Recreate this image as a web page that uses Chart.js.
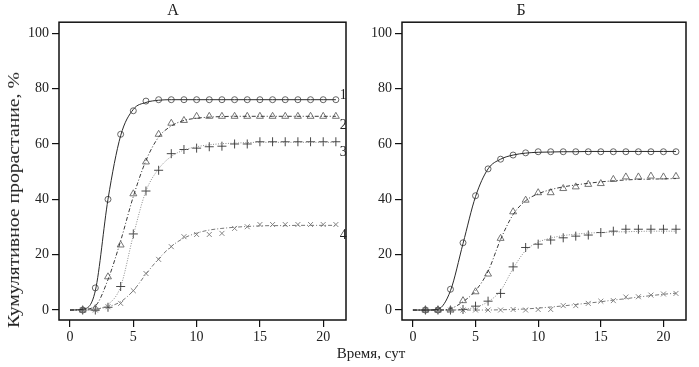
<!DOCTYPE html>
<html>
<head>
<meta charset="utf-8">
<script src="https://cdn.jsdelivr.net/npm/chart.js@4/dist/chart.umd.min.js"></script>
<style>
  body { margin: 0; background: #fff; }
  #wrap { position: relative; width: 699px; height: 367px; font-family: 'Liberation Serif', serif; color: #222; }
  canvas { position: absolute; top: 0; }
  #c1 { left: 0; }
  #c2 { left: 356px; }
  .lbl { position: absolute; white-space: nowrap; transform: translate(-50%, -50%); }
  #ytitle { left: 14px; top: 200px; font-size: 17px; transform: translate(-50%, -50%) rotate(-90deg) scaleX(1.16); }
  #xtitle { left: 371px; top: 353px; font-size: 15px; }
</style>
</head>
<body>
<div id="wrap">
  <canvas id="c1" width="356" height="367"></canvas>
  <canvas id="c2" width="343" height="367"></canvas>
  <div class="lbl" id="ytitle">Кумулятивное прорастание, %</div>
  <div class="lbl" id="xtitle">Время, сут</div>
</div>
<script>
// days of observation (markers) and days of the fitted curves
var days = [1,2,3,4,5,6,7,8,9,10,11,12,13,14,15,16,17,18,19,20,21];
var curveDays = [0,1,2,3,4,5,6,7,8,9,10,11,12,13,14,15,16,17,18,19,20,21];
var xTicks = [0,5,10,15,20];
var yTicks = [0,20,40,60,80,100];
var curveNames = ['1','2','3','4'];

// panel A - observed
var aMarks1 = [0,8,40,63.5,72,75.5,76,76,76,76,76,76,76,76,76,76,76,76,76,76,76];
var aMarks2 = [0,0.5,12,23.5,42,53.5,63.5,67.5,68.5,70,70,70,70,70,70,70,70,70,70,70,70];
var aMarks3 = [0,0,1,8.5,27.5,43,50.5,56.5,58,58.5,59,59.2,60,60,60.8,60.8,60.8,60.8,60.8,60.8,60.8];
var aMarks4 = [0,0,1.2,2.4,7,13.2,18.3,22.9,26.5,27.3,27.3,27.7,29.5,30.1,30.9,30.9,30.9,30.9,30.9,30.9,30.9];
// panel A - fitted
var aCurve1 = [0,0.3,7,40,63,72.5,75,75.8,76,76,76,76,76,76,76,76,76,76,76,76,76,76];
var aCurve2 = [0,0.2,1.5,11,25,41,54,62.5,66.5,68.5,69.3,69.7,69.9,70,70,70,70,70,70,70,70,70];
var aCurve3 = [0,0,0.3,2,8.5,27,43,51,55.5,57.8,59,59.7,60.1,60.3,60.5,60.6,60.6,60.6,60.6,60.6,60.6,60.6];
var aCurve4 = [0,0,0.3,1.2,3,7,13,18.5,23,26,27.8,28.9,29.5,29.9,30.2,30.4,30.5,30.5,30.6,30.6,30.6,30.6];

// panel B - observed
var bMarks1 = [0,0,7.5,24.3,41.3,51,54.5,56,56.8,57.2,57.2,57.2,57.2,57.2,57.2,57.2,57.2,57.2,57.2,57.2,57.2];
var bMarks2 = [0,0,0,3.4,6.6,13,25.9,35.5,39.7,42.4,42.4,43.9,44.5,45.4,45.7,47.2,48.1,48.1,48.4,48.1,48.3];
var bMarks3 = [0,0,0,0.2,1.4,3.2,6,15.6,22.6,23.8,25.3,26.1,26.7,27.1,28,28.5,29.2,29.2,29.2,29.2,29.2];
var bMarks4 = [0,0,0,0,0,0,0,0.2,0,0.2,0.2,1.6,1.6,2.4,3.2,3.4,4.7,4.8,5.4,5.8,6];
// panel B - fitted
var bCurve1 = [0,0,0.3,7,24,41,51,54.5,56,56.7,57,57.1,57.2,57.2,57.3,57.3,57.3,57.3,57.3,57.3,57.3,57.3];
var bCurve2 = [0,0,0,0.5,3,7,14,25.5,34.5,39.5,42,43.5,44.5,45.2,45.8,46.3,46.7,47,47.2,47.3,47.4,47.5];
var bCurve3 = [0,0,0,0,0.3,1,3,7,15,21.5,24.5,26,26.9,27.4,27.8,28,28.2,28.3,28.4,28.5,28.5,28.5];
var bCurve4 = [0,0,0,0,0,0,0,0.1,0.2,0.4,0.7,1.1,1.5,2,2.5,3,3.6,4.1,4.7,5.2,5.7,6.1];

var FONT = "'Liberation Serif', serif";

function pts(xs, ys) {
  return xs.map(function (x, i) { return { x: x, y: ys[i] }; });
}

// line / marker look for each of the 4 series
var lineStyle = [
  { color: '#2a2a2a', dash: [] },
  { color: '#3a3a3a', dash: [4, 2, 1, 2] },
  { color: '#8a8a8a', dash: [1, 1.5] },
  { color: '#777777', dash: [4, 2, 1, 2] }
];
var markStyle = [
  { style: 'circle', r: 3, color: '#555' },
  { style: 'triangle', r: 4, color: '#666' },
  { style: 'cross', r: 4.5, color: '#333' },
  { style: 'crossRot', r: 3.5, color: '#777' }
];

function buildDatasets(curves, marks) {
  var ds = [];
  curves.forEach(function (c, i) {
    ds.push({
      type: 'line',
      data: pts(curveDays, c),
      borderColor: lineStyle[i].color,
      borderDash: lineStyle[i].dash,
      borderWidth: 1,
      pointRadius: 0,
      cubicInterpolationMode: 'monotone',
      fill: false
    });
  });
  marks.forEach(function (m, i) {
    ds.push({
      type: 'scatter',
      data: pts(days, m),
      showLine: false,
      pointStyle: markStyle[i].style,
      pointRadius: markStyle[i].r,
      pointBorderColor: markStyle[i].color,
      pointBackgroundColor: 'rgba(0,0,0,0)',
      pointBorderWidth: 0.9
    });
  });
  return ds;
}

var framePlugin = {
  id: 'frame',
  afterDraw: function (chart) {
    var a = chart.chartArea, ctx = chart.ctx;
    ctx.save();
    ctx.strokeStyle = '#111';
    ctx.lineWidth = 1.5;
    ctx.strokeRect(a.left, a.top, a.right - a.left, a.bottom - a.top);
    ctx.restore();
  }
};

var curveLabels = {
  id: 'curveLabels',
  afterDraw: function (chart, args, opts) {
    if (!opts.values) return;
    var ctx = chart.ctx, xs = chart.scales.x, ys = chart.scales.y;
    ctx.save();
    ctx.font = '14px ' + FONT;
    ctx.fillStyle = '#222';
    ctx.textAlign = 'left';
    ctx.textBaseline = 'middle';
    opts.values.forEach(function (v, i) {
      ctx.fillText(curveNames[i], xs.getPixelForValue(21) + 4, ys.getPixelForValue(v) + opts.offsets[i]);
    });
    ctx.restore();
  }
};

function makeChart(id, title, curves, marks, yWidth, padRight, labels) {
  return new Chart(document.getElementById(id), {
    data: { datasets: buildDatasets(curves, marks) },
    plugins: [framePlugin, curveLabels],
    options: {
      responsive: false,
      animation: false,
      devicePixelRatio: 1,
      layout: { padding: { left: 0, right: padRight, top: 0, bottom: 0 } },
      plugins: {
        legend: { display: false },
        tooltip: { enabled: false },
        title: {
          display: true,
          text: title,
          color: '#222',
          font: { family: FONT, size: 16, weight: 'normal' },
          padding: { top: 1, bottom: 2 }
        },
        curveLabels: labels
      },
      scales: {
        x: {
          type: 'linear',
          min: -0.87,
          max: 21.8,
          afterBuildTicks: function (s) { s.ticks = xTicks.map(function (v) { return { value: v }; }); },
          afterFit: function (s) { s.height = 47; },
          border: { display: false },
          grid: { drawOnChartArea: false, tickLength: 7, color: '#111', lineWidth: 1.2 },
          ticks: { color: '#222', font: { family: FONT, size: 14 }, padding: 2, maxRotation: 0 }
        },
        y: {
          type: 'linear',
          min: -3.6,
          max: 104,
          afterBuildTicks: function (s) { s.ticks = yTicks.map(function (v) { return { value: v }; }); },
          afterFit: function (s) { s.width = yWidth; },
          border: { display: false },
          grid: { drawOnChartArea: false, tickLength: 7, color: '#111', lineWidth: 1.2 },
          ticks: { color: '#222', font: { family: FONT, size: 14 }, padding: 3 }
        }
      }
    }
  });
}

makeChart('c1', 'А', [aCurve1, aCurve2, aCurve3, aCurve4], [aMarks1, aMarks2, aMarks3, aMarks4], 59, 10,
  { values: [aCurve1[21], aCurve2[21], aCurve3[21], aCurve4[21]], offsets: [-4, 9, 10, 10] });
makeChart('c2', 'Б', [bCurve1, bCurve2, bCurve3, bCurve4], [bMarks1, bMarks2, bMarks3, bMarks4], 46, 13, {});
</script>
</body>
</html>
